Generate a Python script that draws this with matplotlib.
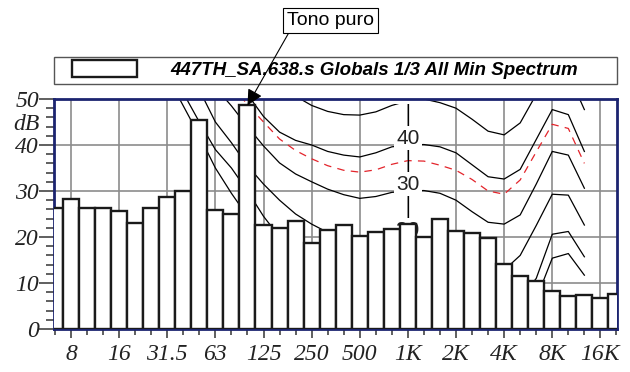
import numpy as np
import matplotlib.pyplot as plt
import matplotlib.transforms as mtransforms
from matplotlib.patches import Rectangle
from matplotlib.ticker import MultipleLocator

# 1/3 octave bands and the minimum spectrum (dB)
band_hz = [6.3, 8, 10, 12.5, 16, 20, 25, 31.5, 40, 50, 63, 80, 100, 125, 160, 200,
           250, 315, 400, 500, 630, 800, 1000, 1250, 1600, 2000, 2500, 3150, 4000,
           5000, 6300, 8000, 10000, 12500, 16000, 20000]
min_spectrum = [26.4, 28.3, 26.2, 26.4, 25.6, 23.0, 26.4, 28.7, 29.9, 45.4, 25.8, 24.9,
                48.6, 22.5, 22.0, 23.5, 18.8, 21.5, 22.5, 20.3, 21.1, 21.7, 22.9, 20.1,
                23.9, 21.3, 20.9, 19.8, 14.1, 11.6, 10.4, 8.2, 7.2, 7.4, 6.8, 7.7]

octave_hz = [8, 16, 31.5, 63, 125, 250, 500, 1000, 2000, 4000, 8000, 16000]
octave_labels = ["8", "16", "31.5", "63", "125", "250", "500", "1K", "2K", "4K", "8K", "16K"]

# contour curves, 31.5 Hz .. 12.5 kHz
curve_hz = band_hz[7:34]
nan = np.nan
curve_50 = [nan, nan, nan, nan, nan, 62, 57.5, 53.5, 50.6, 48.6, 47.3, 46.6, 46.5, 47.2,
            48.6, 49.6, 50.0, 49.2, 48.0, 45.6, 43.0, 42.2, 44.8, 51.0, 56.5, 55.5, 47.7]
curve_40 = [nan, nan, nan, nan, 56, 51, 46.2, 42.8, 41.0, 40.0, 38.6, 37.8, 37.4, 38.3,
            39.6, 40.0, 40.1, 39.6, 38.3, 35.7, 33.1, 32.6, 34.7, 41.2, 47.7, 46.6, 38.6]
curve_30 = [nan, nan, nan, 52.5, 48.5, 44.0, 39.8, 36.1, 33.7, 32.0, 30.4, 29.2, 28.4, 28.8,
            29.7, 30.0, 30.1, 29.5, 28.0, 25.5, 23.2, 22.8, 24.8, 31.5, 38.6, 37.8, 30.6]
curve_20 = [nan, nan, 52, 45, 40.5, 35.5, 31.5, 28.0, 25.0, 22.8, 21.0, 19.8, 19.0, 19.0,
            19.6, 20.0, 19.5, 19.0, 18.3, 16.0, 13.8, 12.8, 16.0, 22.5, 29.3, 29.1, 22.6]
curve_10 = [nan, 51.3, 45, 39, 35, 30, 24.5, 20, 17, 15, 13.5, 12.5, 11.5, 10.8,
            10.3, 10.0, 9.8, 9.5, 8.5, 7.0, 5.5, 5.0, 6.5, 11.0, 20.6, 21.2, 15.7]
curve_low = [55, 48.5, 42, 35, 29.5, 24.5, 20, 16, 13, 11, 9.5, 8.0, 7.0, 6.0,
             5.5, 5.0, 4.8, 4.5, 4.0, 3.5, 3.0, 2.5, 3.5, 6.5, 15.4, 16.4, 11.7]
curve_dash = [nan, nan, nan, nan, 53, 48.8, 45.0, 41.3, 38.8, 37.0, 35.5, 34.5, 34.1, 34.6,
              35.8, 36.6, 36.5, 35.6, 34.5, 32.5, 30.0, 29.3, 32.4, 38.5, 44.5, 43.6, 36.0]
curve_levels = [50, 40, 30, 20]

legend_text = "447TH_SA.638.s Globals 1/3 All Min Spectrum"

x = np.arange(len(band_hz))
cx = [band_hz.index(f) for f in curve_hz]
x1k = band_hz.index(1000)

fig = plt.figure(figsize=(6.3, 3.72), dpi=100)
ax = fig.add_axes([0.0862, 0.1156, 0.8928, 0.6183])

for vals in [curve_50, curve_40, curve_30, curve_20, curve_10, curve_low]:
    ax.plot(cx, vals, color="black", lw=0.9, zorder=2)
ax.plot(cx, curve_dash, color="#e3242b", lw=0.9, dashes=(6, 5), zorder=2)

# label column at 1 kHz
ax.axvline(x1k, ymin=0.4, ymax=1, color="black", lw=0.9, zorder=2.2)
for lv in curve_levels:
    ax.text(x1k, lv + 1.5, str(lv), ha="center", va="center", fontsize=15,
            family="Liberation Sans", color="#222",
            bbox=dict(boxstyle="square,pad=0.12", fc="white", ec="none"),
            zorder=2.5, clip_on=True)

bars = ax.bar(x, min_spectrum, width=1.0, color="white", edgecolor="#1a1a1a",
              linewidth=1.7, zorder=3, label=legend_text)

ax.set_xlim(-0.04, 35.02)
ax.set_ylim(0, 50)

ax.set_axisbelow(True)
ax.grid(which="major", color="#8c8c8c", lw=1.2)

oct_pos = [band_hz.index(f) for f in octave_hz]
ax.set_xticks(oct_pos)
ax.set_xticklabels(octave_labels)
ax.set_xticks([i for i in x if i not in oct_pos], minor=True)
ax.set_yticks(range(0, 51, 10))
ax.yaxis.set_minor_locator(MultipleLocator(2))

ax.tick_params(axis="x", which="major", length=6.5, width=1.2, color="#444", pad=4.5)
ax.tick_params(axis="x", which="minor", length=4.3, width=1.2, color="#444")
ax.tick_params(axis="y", which="major", length=11, width=1.2, color="#444", pad=0)
ax.tick_params(axis="y", which="minor", length=5.5, width=1.2, color="#444")
for lab in ax.get_xticklabels() + ax.get_yticklabels():
    lab.set_family("Liberation Serif")
    lab.set_style("italic")
    lab.set_fontsize(17)
    lab.set_color("#222")

trans = mtransforms.blended_transform_factory(ax.transAxes, ax.transData)
ax.text(-0.027, 44.5, "dB", transform=trans, ha="right", va="center", fontsize=17,
        family="Liberation Serif", style="italic", color="#222")

for sp in ax.spines.values():
    sp.set_color("#1c2470")
    sp.set_linewidth(2)

# legend strip above the plot
ax.legend(handles=[bars], loc="center left", bbox_to_anchor=(0.0312, 1.13),
          frameon=False, borderaxespad=0, borderpad=0, handlelength=3.5,
          handleheight=1.05, handletextpad=1.75,
          prop=dict(family="Liberation Sans", weight="bold", style="italic", size=13.5))
ax.add_patch(Rectangle((0, 1.065), 1, 0.118, transform=ax.transAxes, fill=False,
                       ec="#555", lw=1.0, clip_on=False))

i100 = band_hz.index(100)
ax.annotate("Tono puro", xy=(i100, min_spectrum[i100]), xycoords="data",
            xytext=(0.524, 0.945), textcoords="figure fraction",
            ha="center", va="center", fontsize=14, family="Liberation Sans",
            bbox=dict(boxstyle="square,pad=0.2", fc="white", ec="black", lw=0.8),
            arrowprops=dict(arrowstyle="-|>", color="black", lw=0.8, mutation_scale=24,
                            shrinkA=0, shrinkB=0, relpos=(0.05, 0)),
            zorder=5)

fig.savefig("out.png", dpi=100)
